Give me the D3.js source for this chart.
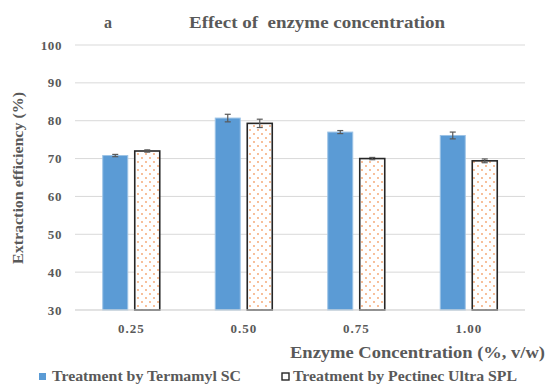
<!DOCTYPE html>
<html>
<head>
<meta charset="utf-8">
<script src="https://cdn.jsdelivr.net/npm/d3@7"></script>
<style>
  body { margin: 0; background: #fff; }
  text { font-family: "Liberation Serif", "Times New Roman", serif; font-weight: bold; fill: #595959; }
</style>
</head>
<body>
<svg id="chart"></svg>
<script>
var width = 548;
var height = 385;

var categories = ['0.25', '0.50', '0.75', '1.00'];
var termamyl = [70.8, 80.7, 77.0, 76.1];
var termamylErr = [0.3, 1.0, 0.4, 0.9];
var pectinec = [72.0, 79.3, 70.0, 69.4];
var pectinecErr = [0.3, 1.1, 0.3, 0.5];
var yTicks = [30, 40, 50, 60, 70, 80, 90, 100];

var margin = {left: 75, right: 23, top: 45, bottom: 75};

var svg = d3.select('#chart')
  .attr('width', width)
  .attr('height', height);

// sparse orange dot fill like the excel 5% pattern
var defs = svg.append('defs');
var pat = defs.append('pattern')
  .attr('id', 'dots')
  .attr('patternUnits', 'userSpaceOnUse')
  .attr('width', 8)
  .attr('height', 8);
pat.append('rect').attr('width', 8).attr('height', 8).attr('fill', '#fff');
pat.append('circle').attr('cx', 2).attr('cy', 2).attr('r', 0.9).attr('fill', '#F4A26B');
pat.append('circle').attr('cx', 6).attr('cy', 6).attr('r', 0.9).attr('fill', '#F4A26B');

var x = d3.scaleBand()
  .domain(categories)
  .range([margin.left, width - margin.right]);

var y = d3.scaleLinear()
  .domain([30, 100])
  .range([height - margin.bottom, margin.top]);

// gridlines
svg.append('g')
  .selectAll('line')
  .data(yTicks)
  .enter().append('line')
  .attr('x1', margin.left)
  .attr('x2', width - margin.right)
  .attr('y1', function (d) { return y(d); })
  .attr('y2', function (d) { return y(d); })
  .attr('stroke', '#d9d9d9')
  .attr('stroke-width', 1);

// y tick labels
svg.append('g')
  .selectAll('text')
  .data(yTicks)
  .enter().append('text')
  .attr('x', 62)
  .attr('y', function (d) { return y(d) + 4.5; })
  .attr('text-anchor', 'end')
  .style('font-size', '13px')
  .style('letter-spacing', '0.6px')
  .text(function (d) { return d; });

var barW = 25;
var gap = 7;

var series = [
  {vals: termamyl, errs: termamylErr, off: -gap / 2 - barW, fill: '#5B9BD5', stroke: '#9DC3E6', sw: 1},
  {vals: pectinec, errs: pectinecErr, off: gap / 2, fill: 'url(#dots)', stroke: '#262626', sw: 1.6}
];

series.forEach(function (s) {
  var g = svg.append('g');
  g.selectAll('rect')
    .data(s.vals)
    .enter().append('rect')
    .attr('x', function (d, i) { return x(categories[i]) + x.bandwidth() / 2 + s.off; })
    .attr('y', function (d) { return y(d); })
    .attr('width', barW)
    .attr('height', function (d) { return y(30) - y(d); })
    .attr('fill', s.fill)
    .attr('stroke', s.stroke)
    .attr('stroke-width', s.sw);

  var eb = svg.append('g').attr('stroke', '#595959').attr('stroke-width', 1.2);
  s.vals.forEach(function (v, i) {
    var cx = x(categories[i]) + x.bandwidth() / 2 + s.off + barW / 2;
    var hi = y(v + s.errs[i]);
    var lo = y(v - s.errs[i]);
    eb.append('line').attr('x1', cx).attr('x2', cx).attr('y1', hi).attr('y2', lo);
    eb.append('line').attr('x1', cx - 3).attr('x2', cx + 3).attr('y1', hi).attr('y2', hi);
    eb.append('line').attr('x1', cx - 3).attr('x2', cx + 3).attr('y1', lo).attr('y2', lo);
  });
});

// bottom axis line
svg.append('line')
  .attr('x1', margin.left)
  .attr('x2', width - margin.right)
  .attr('y1', y(30))
  .attr('y2', y(30))
  .attr('stroke', '#d9d9d9');

// x labels
svg.append('g')
  .selectAll('text')
  .data(categories)
  .enter().append('text')
  .attr('x', function (d) { return x(d) + x.bandwidth() / 2; })
  .attr('y', 333)
  .attr('text-anchor', 'middle')
  .style('font-size', '13px')
  .style('letter-spacing', '1px')
  .text(function (d) { return d; });

// titles
svg.append('text')
  .attr('x', 104)
  .attr('y', 28)
  .style('font-size', '16px')
  .text('a');

svg.append('text')
  .attr('x', 189)
  .attr('y', 28)
  .style('font-size', '16px')
  .attr('xml:space', 'preserve')
  .attr('textLength', 256)
  .attr('lengthAdjust', 'spacingAndGlyphs')
  .text('Effect of  enzyme concentration');

svg.append('text')
  .attr('transform', 'translate(23,178) rotate(-90)')
  .attr('text-anchor', 'middle')
  .style('font-size', '15px')
  .attr('textLength', 172)
  .attr('lengthAdjust', 'spacingAndGlyphs')
  .text('Extraction efficiency (%)');

svg.append('text')
  .attr('x', 290)
  .attr('y', 358)
  .style('font-size', '16px')
  .attr('textLength', 255)
  .attr('lengthAdjust', 'spacingAndGlyphs')
  .text('Enzyme Concentration (%, v/w)');

// legend
var legend = svg.append('g');
legend.append('rect').attr('x', 39).attr('y', 373).attr('width', 7).attr('height', 7).attr('fill', '#5B9BD5');
legend.append('text').attr('x', 52).attr('y', 381).style('font-size', '14px')
  .attr('textLength', 189).attr('lengthAdjust', 'spacingAndGlyphs')
  .text('Treatment by Termamyl SC');
legend.append('rect').attr('x', 282).attr('y', 373).attr('width', 7).attr('height', 7).attr('fill', '#fff').attr('stroke', '#262626').attr('stroke-width', 1.4);
legend.append('text').attr('x', 293).attr('y', 381).style('font-size', '14px')
  .attr('textLength', 224).attr('lengthAdjust', 'spacingAndGlyphs')
  .text('Treatment by Pectinec Ultra SPL');
</script>
</body>
</html>
